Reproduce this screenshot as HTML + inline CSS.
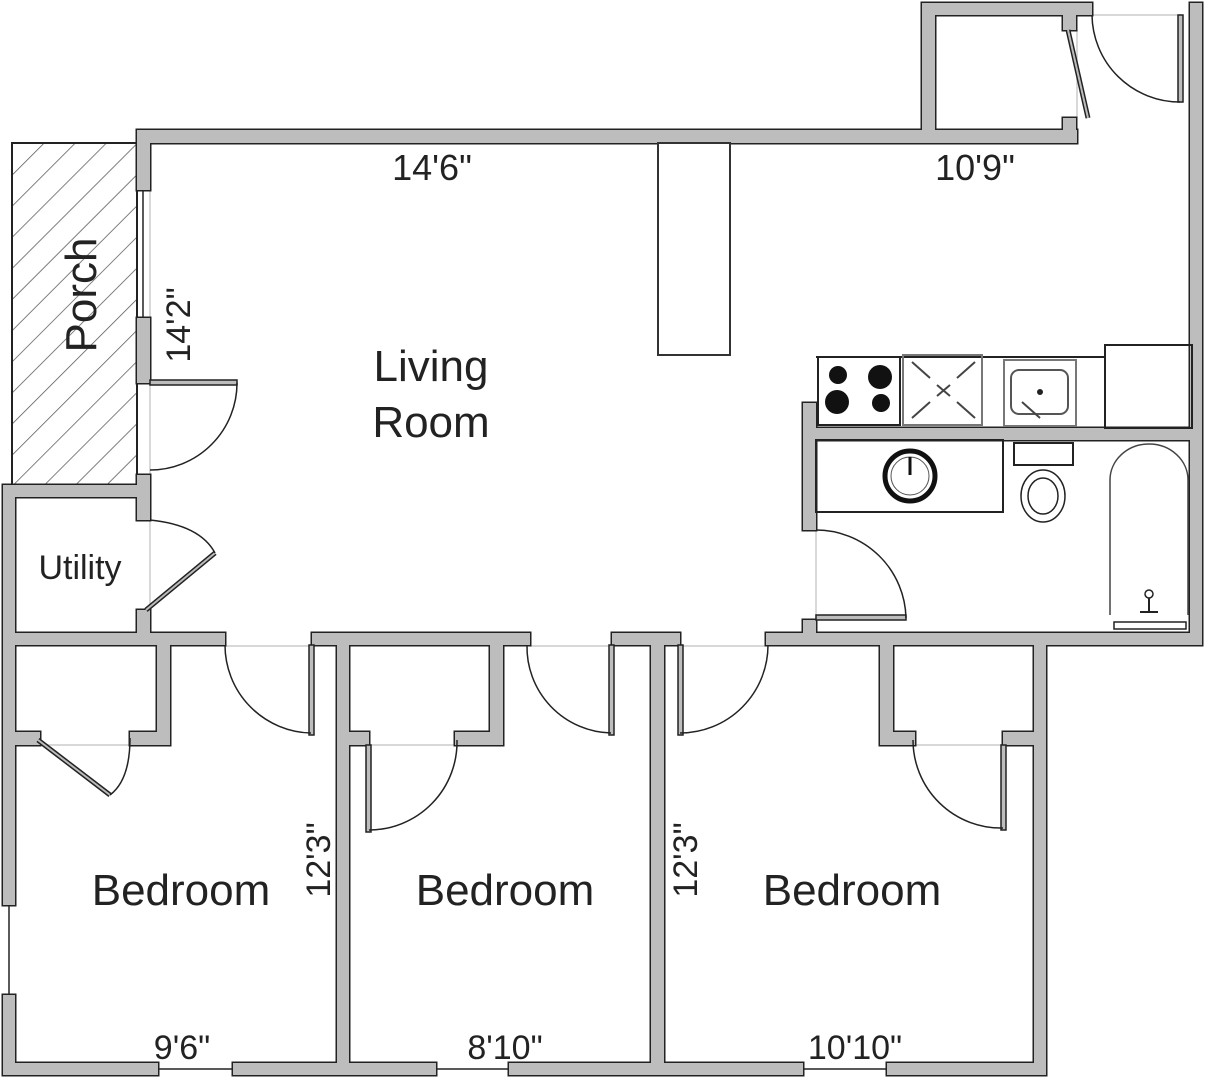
<!DOCTYPE html>
<html><head><meta charset="utf-8"><style>
html,body{margin:0;padding:0;background:#fff;}
svg{display:block;}
text{font-family:"Liberation Sans",Arial,sans-serif;fill:#222;}
</style></head><body>
<svg width="1207" height="1080" viewBox="0 0 1207 1080" xmlns="http://www.w3.org/2000/svg">
<defs>
<pattern id="hatch" width="22" height="22" patternUnits="userSpaceOnUse" patternTransform="rotate(45)">
<line x1="0" y1="0" x2="0" y2="22" stroke="#555" stroke-width="1.5"/>
</pattern>
</defs>
<!-- porch -->
<rect x="12" y="143" width="125" height="342" fill="url(#hatch)" stroke="#222" stroke-width="2"/>
<!-- window / opening lines -->
<g stroke="#ccc" stroke-width="1.5">
<line x1="150" y1="190" x2="150" y2="318"/>
<line x1="150" y1="383" x2="150" y2="475"/>
<line x1="150" y1="520" x2="150" y2="610"/>
<line x1="225" y1="646" x2="312" y2="646"/>
<line x1="530" y1="646" x2="612" y2="646"/>
<line x1="680" y1="646" x2="766" y2="646"/>
<line x1="40" y1="745" x2="130" y2="745"/>
<line x1="369" y1="745" x2="455" y2="745"/>
<line x1="915" y1="745" x2="1003" y2="745"/>
<line x1="816" y1="530" x2="816" y2="620"/>
<line x1="1077" y1="30" x2="1077" y2="118"/>
<line x1="1092" y1="15" x2="1180" y2="15"/>
</g>
<g stroke="#222" stroke-width="1.5">
<line x1="143" y1="190" x2="143" y2="318"/>
<line x1="9" y1="905" x2="9" y2="995"/>
<line x1="158" y1="1069" x2="233" y2="1069"/>
<line x1="436" y1="1069" x2="509" y2="1069"/>
<line x1="803" y1="1069" x2="887" y2="1069"/>
</g>
<!-- walls dark pass -->
<g fill="#222" stroke="#222" stroke-width="3">
<rect x="137" y="130" width="940" height="13"/>
<rect x="922" y="3" width="13" height="140"/>
<rect x="922" y="3" width="170" height="12"/>
<rect x="1063" y="15" width="13" height="15"/>
<rect x="1063" y="118" width="13" height="25"/>
<rect x="1190" y="3" width="12" height="642"/>
<rect x="137" y="130" width="13" height="60"/>
<rect x="137" y="318" width="13" height="65"/>
<rect x="137" y="475" width="13" height="45"/>
<rect x="137" y="610" width="13" height="35"/>
<rect x="3" y="485" width="147" height="12"/>
<rect x="3" y="485" width="12" height="420"/>
<rect x="3" y="995" width="12" height="80"/>
<rect x="3" y="633" width="222" height="12"/>
<rect x="312" y="633" width="218" height="12"/>
<rect x="612" y="633" width="68" height="12"/>
<rect x="766" y="633" width="436" height="12"/>
<rect x="337" y="645" width="12" height="430"/>
<rect x="651" y="645" width="13" height="430"/>
<rect x="1034" y="645" width="12" height="430"/>
<rect x="3" y="1063" width="155" height="12"/>
<rect x="233" y="1063" width="203" height="12"/>
<rect x="509" y="1063" width="294" height="12"/>
<rect x="887" y="1063" width="159" height="12"/>
<rect x="157" y="645" width="13" height="100"/>
<rect x="130" y="732" width="40" height="13"/>
<rect x="15" y="732" width="25" height="13"/>
<rect x="490" y="645" width="13" height="100"/>
<rect x="455" y="732" width="48" height="13"/>
<rect x="349" y="732" width="20" height="13"/>
<rect x="880" y="645" width="13" height="100"/>
<rect x="880" y="732" width="35" height="13"/>
<rect x="1003" y="732" width="31" height="13"/>
<rect x="803" y="403" width="13" height="127"/>
<rect x="803" y="620" width="13" height="13"/>
<rect x="816" y="428" width="386" height="12"/>
</g>
<!-- walls gray pass -->
<g fill="#bdbdbd">
<rect x="137" y="130" width="940" height="13"/>
<rect x="922" y="3" width="13" height="140"/>
<rect x="922" y="3" width="170" height="12"/>
<rect x="1063" y="15" width="13" height="15"/>
<rect x="1063" y="118" width="13" height="25"/>
<rect x="1190" y="3" width="12" height="642"/>
<rect x="137" y="130" width="13" height="60"/>
<rect x="137" y="318" width="13" height="65"/>
<rect x="137" y="475" width="13" height="45"/>
<rect x="137" y="610" width="13" height="35"/>
<rect x="3" y="485" width="147" height="12"/>
<rect x="3" y="485" width="12" height="420"/>
<rect x="3" y="995" width="12" height="80"/>
<rect x="3" y="633" width="222" height="12"/>
<rect x="312" y="633" width="218" height="12"/>
<rect x="612" y="633" width="68" height="12"/>
<rect x="766" y="633" width="436" height="12"/>
<rect x="337" y="645" width="12" height="430"/>
<rect x="651" y="645" width="13" height="430"/>
<rect x="1034" y="645" width="12" height="430"/>
<rect x="3" y="1063" width="155" height="12"/>
<rect x="233" y="1063" width="203" height="12"/>
<rect x="509" y="1063" width="294" height="12"/>
<rect x="887" y="1063" width="159" height="12"/>
<rect x="157" y="645" width="13" height="100"/>
<rect x="130" y="732" width="40" height="13"/>
<rect x="15" y="732" width="25" height="13"/>
<rect x="490" y="645" width="13" height="100"/>
<rect x="455" y="732" width="48" height="13"/>
<rect x="349" y="732" width="20" height="13"/>
<rect x="880" y="645" width="13" height="100"/>
<rect x="880" y="732" width="35" height="13"/>
<rect x="1003" y="732" width="31" height="13"/>
<rect x="803" y="403" width="13" height="127"/>
<rect x="803" y="620" width="13" height="13"/>
<rect x="816" y="428" width="386" height="12"/>
</g>
<!-- door leaves -->
<g fill="#bdbdbd" stroke="#222" stroke-width="1.5">
<rect x="309" y="645" width="5" height="90"/>
<rect x="609" y="645" width="5" height="90"/>
<rect x="678" y="645" width="5" height="90"/>
<rect x="366" y="745" width="5" height="87"/>
<rect x="1001" y="745" width="5" height="85"/>
<rect x="816" y="615" width="90" height="5"/>
<rect x="150" y="380" width="87" height="5"/>
<rect x="1178" y="15" width="5" height="87"/>
</g>
<!-- bifold (hatched) leaves -->
<g stroke="#222" stroke-width="5" stroke-linecap="butt">
<line x1="146" y1="610" x2="215" y2="553"/>
<line x1="38" y1="740" x2="110" y2="795"/>
<line x1="1068" y1="30" x2="1088" y2="118"/>
</g>
<g stroke="#bbb" stroke-width="2">
<line x1="146" y1="610" x2="215" y2="553"/>
<line x1="38" y1="740" x2="110" y2="795"/>
<line x1="1068" y1="30" x2="1088" y2="118"/>
</g>
<!-- door arcs -->
<g fill="none" stroke="#222" stroke-width="1.5">
<path d="M237,383 A87,87 0 0 1 150,470"/>
<path d="M150,520 Q200,525 215,553"/>
<path d="M225,645 A88,88 0 0 0 311,733"/>
<path d="M527,645 A86,86 0 0 0 611,733"/>
<path d="M768,645 A88,88 0 0 1 680,733"/>
<path d="M457,740 A88,88 0 0 1 369,830"/>
<path d="M913,740 A88,88 0 0 0 1003,828"/>
<path d="M130,738 Q130,780 110,795"/>
<path d="M816,530 A90,90 0 0 1 906,618"/>
<path d="M1092,15 A88,88 0 0 0 1180,102"/>
</g>
<!-- kitchen island -->
<rect x="658" y="143" width="72" height="212" fill="#fff" stroke="#333" stroke-width="2"/>
<!-- kitchen -->
<g fill="none" stroke="#222" stroke-width="2">
<line x1="816" y1="357" x2="1105" y2="357"/>
<rect x="818" y="357" width="82" height="68"/>
<rect x="903" y="355" width="79" height="70" stroke="#777"/>
<rect x="1004" y="360" width="72" height="66" stroke="#777"/>
<rect x="1011" y="370" width="57" height="44" rx="8" stroke="#555"/>
<rect x="1105" y="345" width="87" height="83"/>
<rect x="816" y="440" width="187" height="72"/>
<rect x="1014" y="443" width="59" height="22"/>
<ellipse cx="1043" cy="496" rx="22" ry="26" stroke-width="1.5"/>
<ellipse cx="1043" cy="496" rx="15" ry="18" stroke-width="1.5"/>
<path d="M1110,615 L1110,480 A39,36 0 0 1 1188,480 L1188,615" stroke-width="1.5" stroke="#444"/>
<rect x="1114" y="622" width="72" height="7" stroke-width="1.5"/>
</g>
<g stroke="#444" stroke-width="2" fill="none">
<line x1="912" y1="362" x2="930" y2="378"/>
<line x1="975" y1="362" x2="957" y2="378"/>
<line x1="912" y1="418" x2="930" y2="402"/>
<line x1="975" y1="418" x2="957" y2="402"/>
<line x1="937" y1="385" x2="950" y2="396"/>
<line x1="950" y1="385" x2="937" y2="396"/>
<line x1="1022" y1="402" x2="1040" y2="418"/>
</g>
<circle cx="1040" cy="392" r="3" fill="#222"/>
<g fill="#111">
<circle cx="838" cy="375" r="9"/>
<circle cx="880" cy="377" r="12"/>
<circle cx="837" cy="402" r="12"/>
<circle cx="881" cy="403" r="9"/>
</g>
<circle cx="910" cy="476" r="25" fill="none" stroke="#111" stroke-width="5"/>
<circle cx="910" cy="476" r="19" fill="none" stroke="#555" stroke-width="1"/>
<line x1="910" y1="457" x2="910" y2="475" stroke="#111" stroke-width="3"/>
<circle cx="1149" cy="594" r="4" fill="none" stroke="#222" stroke-width="1.5"/>
<line x1="1149" y1="598" x2="1149" y2="612" stroke="#222" stroke-width="2"/>
<line x1="1140" y1="612" x2="1158" y2="612" stroke="#222" stroke-width="2"/>
<!-- labels -->
<text x="432" y="180" font-size="36" text-anchor="middle">14'6"</text>
<text x="975" y="180" font-size="36" text-anchor="middle">10'9"</text>
<text x="431" y="381" font-size="44" text-anchor="middle">Living</text>
<text x="431" y="437" font-size="44" text-anchor="middle">Room</text>
<text x="0" y="0" font-size="44" text-anchor="middle" transform="translate(96,295) rotate(-90)">Porch</text>
<text x="0" y="0" font-size="34" text-anchor="middle" transform="translate(190,325) rotate(-90)">14'2"</text>
<text x="80" y="579" font-size="34" text-anchor="middle">Utility</text>
<text x="181" y="905" font-size="44" text-anchor="middle">Bedroom</text>
<text x="505" y="905" font-size="44" text-anchor="middle">Bedroom</text>
<text x="852" y="905" font-size="44" text-anchor="middle">Bedroom</text>
<text x="0" y="0" font-size="34" text-anchor="middle" transform="translate(330,860) rotate(-90)">12'3"</text>
<text x="0" y="0" font-size="34" text-anchor="middle" transform="translate(697,860) rotate(-90)">12'3"</text>
<text x="182" y="1059" font-size="34" text-anchor="middle">9'6"</text>
<text x="505" y="1059" font-size="34" text-anchor="middle">8'10"</text>
<text x="855" y="1059" font-size="34" text-anchor="middle">10'10"</text>
</svg>
</body></html>
